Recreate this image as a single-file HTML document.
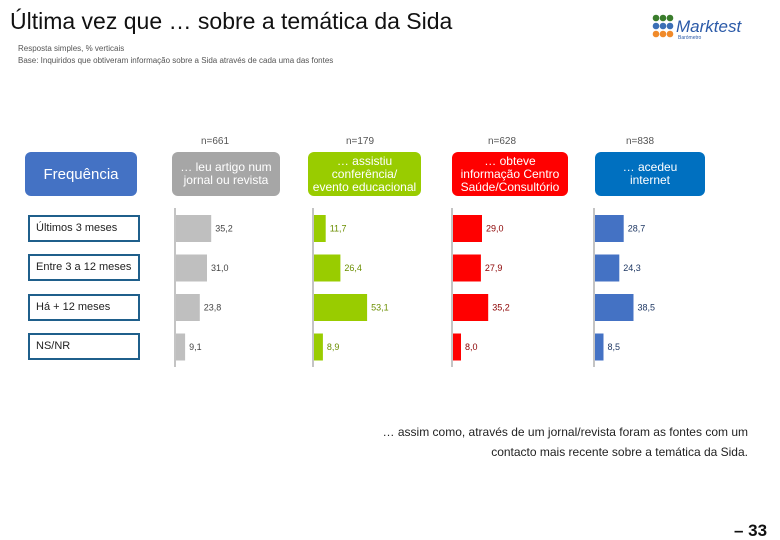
<!DOCTYPE html>
<html><head><meta charset="utf-8">
<style>
body{margin:0;width:780px;height:540px;background:#fff;position:relative;overflow:hidden;font-family:"Liberation Sans",sans-serif}
.a{position:absolute}
.hb{position:absolute;top:152px;height:44px;border-radius:6px;color:#fff;font-size:12px;line-height:13px;text-align:center;display:flex;align-items:center;justify-content:center}
.n{position:absolute;top:136px;font-size:10px;color:#555;width:80px;text-align:center}
.lb{position:absolute;left:28px;width:112px;height:27px;border:2px solid #1f5f8b;font-size:11px;color:#222;line-height:23px;padding-left:6px;box-sizing:border-box}
</style></head><body>
<div class="a" style="left:10px;top:8px;font-size:23px;color:#111">Última vez que … sobre a temática da Sida</div>
<div class="a" style="left:18px;top:43px;font-size:8px;color:#555;line-height:12px">Resposta simples, % verticais<br>Base: Inquiridos que obtiveram informação sobre a Sida através de cada uma das fontes</div>
<div class="a" style="left:652px;top:14px;width:110px;height:30px">
<svg width="110" height="30">
<g fill="#3a7d2c"><circle cx="4" cy="4" r="3.3"/><circle cx="11" cy="4" r="3.3"/><circle cx="18" cy="4" r="3.3"/></g>
<g fill="#3b6fb5"><circle cx="4" cy="12" r="3.3"/><circle cx="11" cy="12" r="3.3"/><circle cx="18" cy="12" r="3.3"/></g>
<g fill="#f08a2a"><circle cx="4" cy="20" r="3.3"/><circle cx="11" cy="20" r="3.3"/><circle cx="18" cy="20" r="3.3"/></g>
<text x="24" y="18" font-size="17" font-style="italic" fill="#2b5aa8" font-family="Liberation Sans">Marktest</text>
<text x="26" y="25" font-size="5" fill="#2b5aa8" font-family="Liberation Sans">Barómetro</text>
</svg></div>
<div class="hb" style="left:25px;width:112px;background:#4472c4;font-size:15px">Frequência</div>
<div class="n" style="left:175px">n=661</div>
<div class="n" style="left:320px">n=179</div>
<div class="n" style="left:462px">n=628</div>
<div class="n" style="left:600px">n=838</div>
<div class="hb" style="left:172px;width:108px;background:#a6a6a6">… leu artigo num<br>jornal ou revista</div>
<div class="hb" style="left:308px;width:113px;background:#99cc00">… assistiu<br>conferência/<br>evento educacional</div>
<div class="hb" style="left:452px;width:116px;background:#ff0000">… obteve<br>informação Centro<br>Saúde/Consultório</div>
<div class="hb" style="left:595px;width:110px;background:#0070c0">… acedeu<br>internet</div>
<div class="lb" style="top:215px">Últimos 3 meses</div>
<div class="lb" style="top:254px">Entre 3 a 12 meses</div>
<div class="lb" style="top:294px">Há + 12 meses</div>
<div class="lb" style="top:333px">NS/NR</div>
<svg class="a" id="chart" style="left:0;top:0" width="780" height="540"></svg>
<div class="a" style="left:340px;top:422px;width:408px;text-align:right;font-size:12px;color:#222;line-height:20px">… assim como, através de um jornal/revista foram as fontes com um<br>contacto mais recente sobre a temática da Sida.</div>
<div class="a" style="left:734px;top:522px;font-size:17px;font-weight:bold;color:#111;line-height:17px">– 33</div>
<script>
const categories=["Últimos 3 meses","Entre 3 a 12 meses","Há + 12 meses","NS/NR"];
const jornal=[35.2,31.0,23.8,9.1];
const conferencia=[11.7,26.4,53.1,8.9];
const centroSaude=[29.0,27.9,35.2,8.0];
const internet=[28.7,24.3,38.5,8.5];
const series=[
 {name:"jornal",vals:jornal,x0:175,color:"#bfbfbf",lc:"#444"},
 {name:"conferencia",vals:conferencia,x0:313,color:"#99cc00",lc:"#6b8e00"},
 {name:"centro-saude",vals:centroSaude,x0:452,color:"#ff0000",lc:"#8b0000"},
 {name:"internet",vals:internet,x0:594,color:"#4472c4",lc:"#1f3864"}];
const svg=document.getElementById('chart');
const NS="http://www.w3.org/2000/svg";
const xs=v=>v*1.0;
const yRow=i=>215+i*39.5;
const bh=27;
series.forEach(s=>{
 const ax=document.createElementNS(NS,'line');
 
 
 ax.setAttribute('x1',s.x0);ax.setAttribute('x2',s.x0);ax.setAttribute('y1',208);ax.setAttribute('y2',367);
 ax.setAttribute('stroke','#888');ax.setAttribute('stroke-width','1');
 svg.appendChild(ax);
 s.vals.forEach((v,i)=>{
  const r=document.createElementNS(NS,'rect');
  
  
  r.setAttribute('x',s.x0+1);r.setAttribute('y',yRow(i));
  r.setAttribute('width',xs(v));r.setAttribute('height',bh);
  r.setAttribute('fill',s.color);
  svg.appendChild(r);
  const t=document.createElementNS(NS,'text');
  
  
  t.setAttribute('x',s.x0+xs(v)+5);t.setAttribute('y',yRow(i)+bh/2+3);
  t.setAttribute('font-size','9');t.setAttribute('fill',s.lc);
  t.setAttribute('font-family','Liberation Sans, sans-serif');
  t.textContent=v.toFixed(1).replace('.',',');
  svg.appendChild(t);
 });
});
</script>
</body></html>
